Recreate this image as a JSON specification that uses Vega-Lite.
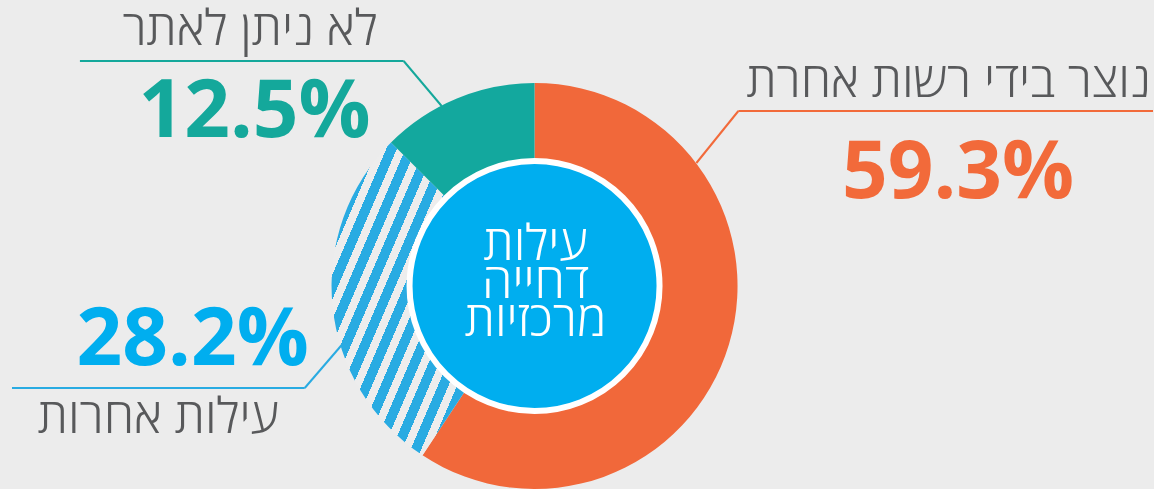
{
  "$schema": "https://vega.github.io/schema/vega-lite/v6.json",
  "width": 1154,
  "height": 489,
  "autosize": {"type": "fit", "contains": "padding"},
  "padding": 0,
  "background": "#ececec",
  "config": {"view": {"stroke": null}, "axis": {"disable": true}},
  "data": {
    "values": [
      {"key": "authority", "label": "נוצר בידי רשות אחרת", "pct": 0.593},
      {"key": "other", "label": "עילות אחרות", "pct": 0.282},
      {"key": "unknown", "label": "לא ניתן לאתר", "pct": 0.125}
    ]
  },
  "layer": [
    {
      "mark": {"type": "arc", "outerRadius": 203, "innerRadius": 125, "stroke": null},
      "encoding": {
        "theta": {"field": "pct", "type": "quantitative", "stack": true},
        "order": {"field": "pct", "sort": "descending"},
        "x": {"datum": 535, "type": "quantitative", "scale": {"domain": [0, 1154], "nice": false, "zero": false}, "axis": null},
        "y": {"datum": 286, "type": "quantitative", "scale": {"domain": [0, 489], "nice": false, "zero": false, "reverse": true}, "axis": null},
        "fill": {
          "condition": {
            "test": "datum.key === 'other'",
            "value": {
              "gradient": "linear", "x1": 0, "y1": 0, "x2": 1, "y2": 1,
              "stops": [
                {"offset": 0, "color": "#29abe2"}, {"offset": 0.0393, "color": "#29abe2"}, {"offset": 0.0393, "color": "#ededed"}, {"offset": 0.0714, "color": "#ededed"},
                {"offset": 0.0714, "color": "#29abe2"}, {"offset": 0.1107, "color": "#29abe2"}, {"offset": 0.1107, "color": "#ededed"}, {"offset": 0.1429, "color": "#ededed"},
                {"offset": 0.1429, "color": "#29abe2"}, {"offset": 0.1821, "color": "#29abe2"}, {"offset": 0.1821, "color": "#ededed"}, {"offset": 0.2143, "color": "#ededed"},
                {"offset": 0.2143, "color": "#29abe2"}, {"offset": 0.2536, "color": "#29abe2"}, {"offset": 0.2536, "color": "#ededed"}, {"offset": 0.2857, "color": "#ededed"},
                {"offset": 0.2857, "color": "#29abe2"}, {"offset": 0.3250, "color": "#29abe2"}, {"offset": 0.3250, "color": "#ededed"}, {"offset": 0.3571, "color": "#ededed"},
                {"offset": 0.3571, "color": "#29abe2"}, {"offset": 0.3964, "color": "#29abe2"}, {"offset": 0.3964, "color": "#ededed"}, {"offset": 0.4286, "color": "#ededed"},
                {"offset": 0.4286, "color": "#29abe2"}, {"offset": 0.4679, "color": "#29abe2"}, {"offset": 0.4679, "color": "#ededed"}, {"offset": 0.5000, "color": "#ededed"},
                {"offset": 0.5000, "color": "#29abe2"}, {"offset": 0.5393, "color": "#29abe2"}, {"offset": 0.5393, "color": "#ededed"}, {"offset": 0.5714, "color": "#ededed"},
                {"offset": 0.5714, "color": "#29abe2"}, {"offset": 0.6107, "color": "#29abe2"}, {"offset": 0.6107, "color": "#ededed"}, {"offset": 0.6429, "color": "#ededed"},
                {"offset": 0.6429, "color": "#29abe2"}, {"offset": 0.6821, "color": "#29abe2"}, {"offset": 0.6821, "color": "#ededed"}, {"offset": 0.7143, "color": "#ededed"},
                {"offset": 0.7143, "color": "#29abe2"}, {"offset": 0.7536, "color": "#29abe2"}, {"offset": 0.7536, "color": "#ededed"}, {"offset": 0.7857, "color": "#ededed"},
                {"offset": 0.7857, "color": "#29abe2"}, {"offset": 0.8250, "color": "#29abe2"}, {"offset": 0.8250, "color": "#ededed"}, {"offset": 0.8571, "color": "#ededed"},
                {"offset": 0.8571, "color": "#29abe2"}, {"offset": 0.8964, "color": "#29abe2"}, {"offset": 0.8964, "color": "#ededed"}, {"offset": 0.9286, "color": "#ededed"},
                {"offset": 0.9286, "color": "#29abe2"}, {"offset": 0.9679, "color": "#29abe2"}, {"offset": 0.9679, "color": "#ededed"}, {"offset": 1, "color": "#ededed"}
              ]
            }
          },
          "field": "key",
          "type": "nominal",
          "scale": {"domain": ["authority", "other", "unknown"], "range": ["#f1683a", "#29abe2", "#13a89e"]},
          "legend": null
        }
      }
    },
    {
      "transform": [{"filter": "datum.key === 'authority'"}],
      "mark": {"type": "arc", "outerRadius": 125, "innerRadius": 0, "theta": 0, "theta2": 6.2832, "fill": "#00aeef", "stroke": "#ffffff", "strokeWidth": 6},
      "encoding": {
        "x": {"datum": 535, "type": "quantitative", "scale": {"domain": [0, 1154], "nice": false, "zero": false}, "axis": null},
        "y": {"datum": 286, "type": "quantitative", "scale": {"domain": [0, 489], "nice": false, "zero": false, "reverse": true}, "axis": null}
      }
    },
    {
      "transform": [{"filter": "datum.key === 'authority'"}],
      "mark": {"type": "text", "text": ["עילות", "דחייה", "מרכזיות"], "align": "center", "baseline": "alphabetic", "lineHeight": 38, "font": "Open Sans", "fontWeight": 300, "fontSize": 49, "fill": "#ffffff"},
      "encoding": {
        "x": {"datum": 536, "type": "quantitative", "scale": {"domain": [0, 1154], "nice": false, "zero": false}, "axis": null},
        "y": {"datum": 260, "type": "quantitative", "scale": {"domain": [0, 489], "nice": false, "zero": false, "reverse": true}, "axis": null}
      }
    },
    {
      "transform": [{"filter": "datum.key === 'unknown'"}],
      "mark": {"type": "text", "align": "right", "baseline": "alphabetic", "font": "Open Sans", "fontWeight": 300, "fontSize": 49, "fill": "#58595b"},
      "encoding": {
        "text": {"field": "label"},
        "x": {"datum": 378, "type": "quantitative", "scale": {"domain": [0, 1154], "nice": false, "zero": false}, "axis": null},
        "y": {"datum": 45, "type": "quantitative", "scale": {"domain": [0, 489], "nice": false, "zero": false, "reverse": true}, "axis": null}
      }
    },
    {
      "transform": [{"filter": "datum.key === 'unknown'"}],
      "mark": {"type": "text", "align": "right", "baseline": "alphabetic", "font": "Open Sans", "fontWeight": "bold", "fontSize": 80, "fill": "#14a89b"},
      "encoding": {
        "text": {"field": "pct", "format": ".1%"},
        "x": {"datum": 371, "type": "quantitative", "scale": {"domain": [0, 1154], "nice": false, "zero": false}, "axis": null},
        "y": {"datum": 137, "type": "quantitative", "scale": {"domain": [0, 489], "nice": false, "zero": false, "reverse": true}, "axis": null}
      }
    },
    {
      "transform": [{"filter": "datum.key === 'unknown'"}],
      "mark": {"type": "rule", "stroke": "#14a89b", "strokeWidth": 2},
      "encoding": {
        "x": {"datum": 80, "type": "quantitative", "scale": {"domain": [0, 1154], "nice": false, "zero": false}, "axis": null},
        "x2": {"datum": 404},
        "y": {"datum": 61, "type": "quantitative", "scale": {"domain": [0, 489], "nice": false, "zero": false, "reverse": true}, "axis": null},
        "y2": {"datum": 61}
      }
    },
    {
      "transform": [{"filter": "datum.key === 'unknown'"}],
      "mark": {"type": "rule", "stroke": "#14a89b", "strokeWidth": 2},
      "encoding": {
        "x": {"datum": 404, "type": "quantitative", "scale": {"domain": [0, 1154], "nice": false, "zero": false}, "axis": null},
        "x2": {"datum": 442},
        "y": {"datum": 61, "type": "quantitative", "scale": {"domain": [0, 489], "nice": false, "zero": false, "reverse": true}, "axis": null},
        "y2": {"datum": 106}
      }
    },
    {
      "transform": [{"filter": "datum.key === 'authority'"}],
      "mark": {"type": "text", "align": "right", "baseline": "alphabetic", "font": "Open Sans", "fontWeight": 300, "fontSize": 49, "fill": "#58595b"},
      "encoding": {
        "text": {"field": "label"},
        "x": {"datum": 1152, "type": "quantitative", "scale": {"domain": [0, 1154], "nice": false, "zero": false}, "axis": null},
        "y": {"datum": 97, "type": "quantitative", "scale": {"domain": [0, 489], "nice": false, "zero": false, "reverse": true}, "axis": null}
      }
    },
    {
      "transform": [{"filter": "datum.key === 'authority'"}],
      "mark": {"type": "text", "align": "right", "baseline": "alphabetic", "font": "Open Sans", "fontWeight": "bold", "fontSize": 80, "fill": "#f26a3a"},
      "encoding": {
        "text": {"field": "pct", "format": ".1%"},
        "x": {"datum": 1075, "type": "quantitative", "scale": {"domain": [0, 1154], "nice": false, "zero": false}, "axis": null},
        "y": {"datum": 198, "type": "quantitative", "scale": {"domain": [0, 489], "nice": false, "zero": false, "reverse": true}, "axis": null}
      }
    },
    {
      "transform": [{"filter": "datum.key === 'authority'"}],
      "mark": {"type": "rule", "stroke": "#f26a3a", "strokeWidth": 2},
      "encoding": {
        "x": {"datum": 739, "type": "quantitative", "scale": {"domain": [0, 1154], "nice": false, "zero": false}, "axis": null},
        "x2": {"datum": 1154},
        "y": {"datum": 111, "type": "quantitative", "scale": {"domain": [0, 489], "nice": false, "zero": false, "reverse": true}, "axis": null},
        "y2": {"datum": 111}
      }
    },
    {
      "transform": [{"filter": "datum.key === 'authority'"}],
      "mark": {"type": "rule", "stroke": "#f26a3a", "strokeWidth": 2},
      "encoding": {
        "x": {"datum": 697, "type": "quantitative", "scale": {"domain": [0, 1154], "nice": false, "zero": false}, "axis": null},
        "x2": {"datum": 739},
        "y": {"datum": 163, "type": "quantitative", "scale": {"domain": [0, 489], "nice": false, "zero": false, "reverse": true}, "axis": null},
        "y2": {"datum": 111}
      }
    },
    {
      "transform": [{"filter": "datum.key === 'other'"}],
      "mark": {"type": "text", "align": "right", "baseline": "alphabetic", "font": "Open Sans", "fontWeight": 300, "fontSize": 49, "fill": "#58595b"},
      "encoding": {
        "text": {"field": "label"},
        "x": {"datum": 279, "type": "quantitative", "scale": {"domain": [0, 1154], "nice": false, "zero": false}, "axis": null},
        "y": {"datum": 433, "type": "quantitative", "scale": {"domain": [0, 489], "nice": false, "zero": false, "reverse": true}, "axis": null}
      }
    },
    {
      "transform": [{"filter": "datum.key === 'other'"}],
      "mark": {"type": "text", "align": "right", "baseline": "alphabetic", "font": "Open Sans", "fontWeight": "bold", "fontSize": 80, "fill": "#00aeef"},
      "encoding": {
        "text": {"field": "pct", "format": ".1%"},
        "x": {"datum": 309, "type": "quantitative", "scale": {"domain": [0, 1154], "nice": false, "zero": false}, "axis": null},
        "y": {"datum": 365, "type": "quantitative", "scale": {"domain": [0, 489], "nice": false, "zero": false, "reverse": true}, "axis": null}
      }
    },
    {
      "transform": [{"filter": "datum.key === 'other'"}],
      "mark": {"type": "rule", "stroke": "#29abe2", "strokeWidth": 2},
      "encoding": {
        "x": {"datum": 12, "type": "quantitative", "scale": {"domain": [0, 1154], "nice": false, "zero": false}, "axis": null},
        "x2": {"datum": 305},
        "y": {"datum": 388, "type": "quantitative", "scale": {"domain": [0, 489], "nice": false, "zero": false, "reverse": true}, "axis": null},
        "y2": {"datum": 388}
      }
    },
    {
      "transform": [{"filter": "datum.key === 'other'"}],
      "mark": {"type": "rule", "stroke": "#29abe2", "strokeWidth": 2},
      "encoding": {
        "x": {"datum": 305, "type": "quantitative", "scale": {"domain": [0, 1154], "nice": false, "zero": false}, "axis": null},
        "x2": {"datum": 342},
        "y": {"datum": 388, "type": "quantitative", "scale": {"domain": [0, 489], "nice": false, "zero": false, "reverse": true}, "axis": null},
        "y2": {"datum": 345}
      }
    }
  ]
}
